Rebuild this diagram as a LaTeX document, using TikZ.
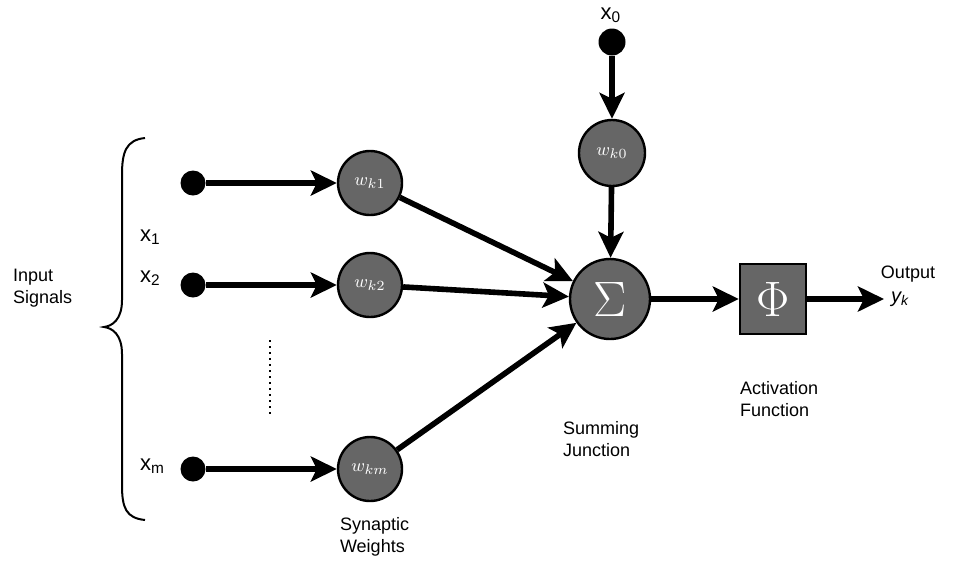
\documentclass[tikz,border=0pt]{standalone}
\usepackage{fontspec}
\setmainfont{Liberation Sans}
\usepackage{tikz}
\usetikzlibrary{arrows.meta, positioning}

\begin{document}
\begin{tikzpicture}[
  x=0.5pt, y=-0.5pt,
  every node/.style={font=\fontsize{9}{11}\selectfont},
  weightnode/.style={circle, draw, line width=1.2pt, fill=black!60, minimum size=32pt, inner sep=0pt, text=white, font=\fontsize{9.5}{10}\selectfont\itshape},
  sumnode/.style={circle, draw, line width=1.2pt, fill=black!60, minimum size=40pt, inner sep=0pt, text=white, font=\fontsize{24}{24}\selectfont},
  actnode/.style={rectangle, draw, line width=1.2pt, fill=black!60, minimum width=33pt, minimum height=35pt, inner sep=0pt, text=white, font=\fontsize{24}{24}\selectfont},
  dotnode/.style={circle, fill=black, minimum size=12.5pt, inner sep=0pt},
  signame/.style={font=\fontsize{11}{13}\selectfont, anchor=west},
  caption/.style={align=left, anchor=north west},
  arr/.style={-{Stealth[length=13pt, width=12.5pt, inset=3pt]}, line width=2.8pt}
]
\useasboundingbox (0,0) rectangle (953,575);

% Nodes
\node[dotnode] (d1) at (193,183) {};
\node[dotnode] (d2) at (193,285) {};
\node[dotnode] (dm) at (193,469) {};
\node[dotnode, minimum size=13.5pt] (d0) at (612,42) {};

\node[weightnode] (w1) at (370,183) {$w_{k1}$};
\node[weightnode] (w2) at (370,285) {$w_{k2}$};
\node[weightnode] (wm) at (370,469) {$w_{km}$};
\node[weightnode, minimum size=33pt] (w0) at (612,153) {$w_{k0}$};

\node[sumnode] (sum) at (610,299) {$\Sigma$};
\node[actnode] (act) at (773,299) {$\Phi$};
\coordinate (out) at (884,299);

% Labels
\node[signame] (x1) at (133,237) {x\textsubscript{1}};
\node[signame] (x2) at (133,278) {x\textsubscript{2}};
\node[signame] (xm) at (133,466) {x\textsubscript{m}};
\node[signame, anchor=south] (x0) at (611,30) {x\textsubscript{0}};
\node[anchor=west, font=\fontsize{10}{12}\selectfont\itshape] (yk) at (out) {y\textsubscript{k}};
\node[anchor=south] (outlbl) at (908,289) {Output};

\node[caption] (inlbl) at (6,262) {Input\\Signals};
\node[caption] (synlbl) at (333,510) {Synaptic\\Weights};
\node[caption] (sumlbl) at (556,414) {Summing\\Junction};
\node[caption] (actlbl) at (733,374) {Activation\\Function};

% Brace and dots
\draw[line width=1pt] (145,138) .. controls (126,140) and (122,152) .. (122,175)
  -- (122,300) .. controls (122,320) and (112,326) .. (104,327)
  .. controls (112,328) and (122,334) .. (122,354)
  -- (122,485) .. controls (122,508) and (126,518) .. (145,520);
\draw[line width=1pt, dotted] (270,340) -- (270,415);

% Edges
\draw[arr] (d1) -- (w1);
\draw[arr] (d2) -- (w2);
\draw[arr] (dm) -- (wm);
\draw[arr] (d0) -- (w0);
\draw[arr] (w1) -- (sum);
\draw[arr] (w2) -- (sum);
\draw[arr] (wm) -- (sum);
\draw[arr] (w0) -- (sum);
\draw[arr] (sum) -- (act);
\draw[arr] (act) -- (out);

\end{tikzpicture}
\end{document}
